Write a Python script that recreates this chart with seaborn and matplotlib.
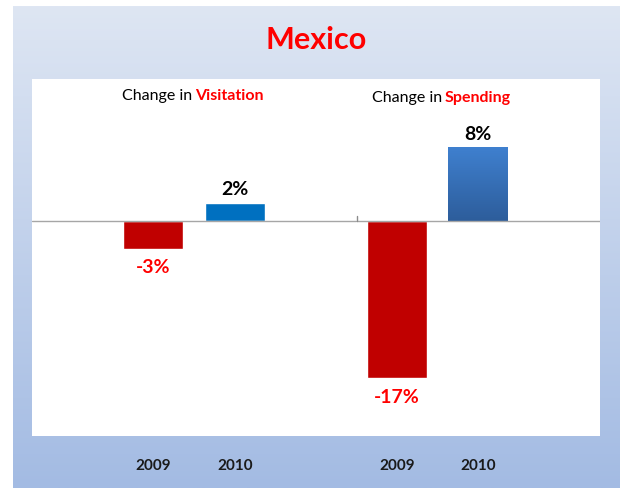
import numpy as np
import seaborn as sns
import matplotlib.pyplot as plt
from matplotlib.colors import LinearSegmentedColormap

# data
years = ["2009", "2010"]
visitation = [-3, 2]
spending = [-17, 8]
visit_colors = ["#c00000", "#0070c0"]
spend_colors = ["#c00000", "#3a78c2"]

sns.set_theme(style="white")
plt.rcParams['font.family'] = ['Lato', 'DejaVu Sans']

W, H = 620, 489
fig = plt.figure(figsize=(W / 100, H / 100), dpi=100)
fig.patch.set_facecolor("white")

# slide background gradient
bg = fig.add_axes([13 / W, 0, 607 / W, 482 / H], zorder=0)
grad = np.linspace(0, 1, 256).reshape(-1, 1)
bg_cmap = LinearSegmentedColormap.from_list("bg", ["#dee6f3", "#a3bbe3"])
bg.imshow(grad, aspect="auto", cmap=bg_cmap, extent=[0, 1, 0, 1], origin="upper")
bg.axis("off")

top, bot = 80, 437
ylim = (-23.3, 15.4)
ax1 = fig.add_axes([32 / W, (H - bot) / H, (356 - 32) / W, (bot - top) / H], zorder=1)
ax2 = fig.add_axes([356 / W, (H - bot) / H, (600 - 356) / W, (bot - top) / H], zorder=1)


def draw(ax, vals, colors, xlim):
    sns.barplot(x=years, y=vals, hue=years, palette=colors, legend=False,
                width=0.74, ax=ax, saturation=1, zorder=2)
    ax.set_facecolor("white")
    ax.set_xlim(*xlim)
    ax.set_ylim(*ylim)
    ax.axhline(0, color="#a6a6a6", lw=1, zorder=3)
    for s in ax.spines.values():
        s.set_visible(False)
    ax.set_yticks([])
    ax.set_ylabel("")
    ax.tick_params(axis="x", length=0, pad=16)
    for lab in ax.get_xticklabels():
        lab.set_fontweight("bold")
        lab.set_fontsize(11)
        lab.set_color("#1a1a1a")
    for i, v in enumerate(vals):
        if v < 0:
            ax.annotate(f"{v}%", (i, v), xytext=(0, -7), textcoords="offset points",
                        ha="center", va="top", color="#ff0000",
                        fontsize=14, fontweight="bold")
        else:
            ax.annotate(f"{v}%", (i, v), xytext=(0, 4), textcoords="offset points",
                        ha="center", va="bottom", color="black",
                        fontsize=14, fontweight="bold")


draw(ax1, visitation, visit_colors, (-1.48, 2.48))
draw(ax2, spending, spend_colors, (-0.51, 2.51))

# gradient fill on the spending 2010 bar
p = ax2.patches[1]
bb = p.get_bbox()
bar_cmap = LinearSegmentedColormap.from_list("bar", ["#3f80cf", "#2d5d9b"])
im = ax2.imshow(grad, aspect="auto", cmap=bar_cmap, origin="upper",
                extent=[bb.x0, bb.x1, bb.y0, bb.y1], zorder=2.5)
im.set_clip_path(p)
ax2.set_xlim(-0.51, 2.51)
ax2.set_ylim(*ylim)

# small divider tick
span = ylim[1] - ylim[0]
ax2.axvline(-0.5, ymin=(0 - ylim[0]) / span, ymax=(0.6 - ylim[0]) / span,
            color="#8c8c8c", lw=1, clip_on=False, zorder=3)

# titles
fig.text(316 / W, 1 - 40 / H, "Mexico", ha="center", va="center",
         color="#ff0000", fontsize=22, fontweight="bold")
fig.text(192 / W, 1 - 96 / H, "Change in", ha="right", va="center",
         color="black", fontsize=11.5)
fig.text(195 / W, 1 - 96 / H, "Visitation", ha="left", va="center",
         color="#ff0000", fontsize=11.5, fontweight="bold")
fig.text(442 / W, 1 - 98 / H, "Change in", ha="right", va="center",
         color="black", fontsize=11.5)
fig.text(445 / W, 1 - 98 / H, "Spending", ha="left", va="center",
         color="#ff0000", fontsize=11.5, fontweight="bold")

fig.savefig("out.png", dpi=100)
